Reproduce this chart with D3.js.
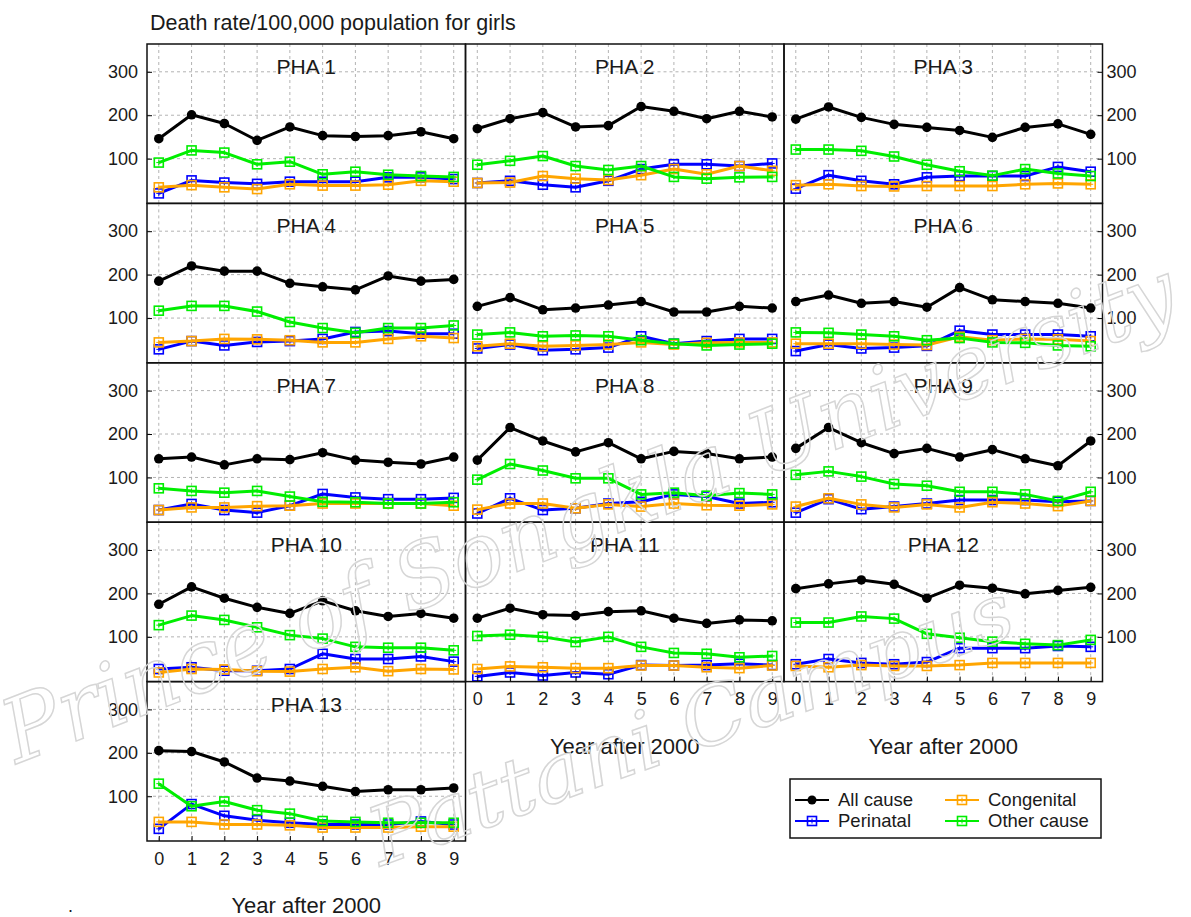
<!DOCTYPE html>
<html>
<head>
<meta charset="utf-8">
<script src="https://cdn.jsdelivr.net/npm/d3@7"></script>
<style>
  body { margin: 0; background: #fff; }
  text { font-family: "Liberation Sans", Arial, sans-serif; fill: #1a1a1a; }
</style>
</head>
<body>
<div id="chart"></div>
<script>
// data
var years = [0, 1, 2, 3, 4, 5, 6, 7, 8, 9];
var yTicks = [100, 200, 300];
var panelNames = ["PHA 1", "PHA 2", "PHA 3", "PHA 4", "PHA 5", "PHA 6", "PHA 7",
  "PHA 8", "PHA 9", "PHA 10", "PHA 11", "PHA 12", "PHA 13"];
var seriesNames = ["All cause", "Perinatal", "Congenital", "Other cause"];

var allCause = [
  [146, 201, 181, 142, 173, 153, 151, 153, 162, 146],
  [169, 192, 206, 173, 176, 220, 209, 192, 209, 196],
  [191, 219, 195, 179, 172, 165, 149, 172, 180, 156],
  [185, 220, 208, 208, 180, 172, 165, 197, 185, 189],
  [127, 147, 119, 123, 130, 138, 114, 114, 127, 123],
  [138, 153, 134, 138, 125, 170, 142, 138, 134, 123],
  [143, 147, 129, 143, 141, 157, 140, 135, 131, 147],
  [140, 215, 184, 159, 180, 143, 160, 155, 143, 147],
  [167, 215, 180, 155, 167, 147, 164, 143, 127, 184],
  [175, 215, 189, 168, 154, 183, 160, 147, 154, 143],
  [143, 166, 151, 149, 158, 160, 143, 131, 139, 137],
  [211, 222, 231, 221, 189, 219, 212, 199, 207, 214],
  [205, 203, 179, 142, 135, 123, 111, 115, 115, 119]
];
var perinatal = [
  [20, 50, 45, 42, 47, 47, 47, 57, 57, 53],
  [44, 49, 40, 34, 49, 76, 87, 87, 83, 89],
  [31, 62, 49, 41, 57, 60, 60, 60, 81, 70],
  [28, 47, 37, 45, 47, 52, 68, 70, 64, 64],
  [30, 39, 26, 28, 32, 58, 41, 47, 52, 52],
  [24, 39, 30, 32, 36, 71, 62, 62, 62, 58],
  [25, 39, 25, 19, 35, 62, 54, 50, 50, 53],
  [17, 52, 25, 29, 40, 44, 61, 56, 40, 43],
  [19, 50, 27, 33, 40, 48, 48, 48, 44, 46],
  [26, 30, 22, 22, 26, 61, 49, 49, 55, 43],
  [9, 18, 11, 18, 14, 35, 34, 35, 38, 35],
  [37, 49, 40, 37, 42, 74, 74, 74, 79, 77],
  [25, 82, 55, 45, 39, 35, 35, 35, 42, 35]
];
var congenital = [
  [34, 39, 34, 30, 41, 38, 38, 40, 49, 47],
  [44, 45, 60, 54, 51, 62, 76, 64, 83, 72],
  [39, 41, 37, 36, 37, 37, 37, 41, 43, 41],
  [44, 47, 52, 51, 49, 44, 44, 52, 58, 54],
  [35, 41, 35, 37, 39, 44, 39, 43, 44, 44],
  [41, 41, 41, 39, 38, 57, 49, 52, 51, 47],
  [25, 31, 31, 34, 35, 40, 40, 40, 40, 35],
  [26, 40, 40, 29, 38, 33, 40, 36, 35, 38],
  [33, 52, 38, 31, 38, 31, 43, 40, 34, 46],
  [18, 26, 25, 21, 20, 26, 30, 21, 26, 25],
  [26, 32, 30, 28, 28, 34, 34, 30, 28, 34],
  [33, 30, 35, 33, 33, 35, 40, 40, 40, 40],
  [41, 41, 35, 35, 33, 28, 28, 28, 30, 30]
];
var otherCause = [
  [91, 119, 114, 87, 93, 64, 70, 63, 60, 58],
  [86, 95, 106, 83, 74, 83, 58, 54, 57, 58],
  [121, 121, 118, 105, 86, 71, 61, 76, 66, 60],
  [117, 128, 128, 115, 91, 77, 66, 77, 77, 83],
  [62, 67, 58, 60, 58, 49, 41, 37, 39, 41],
  [67, 66, 62, 58, 49, 54, 44, 43, 37, 35],
  [75, 69, 65, 69, 56, 44, 43, 40, 40, 43],
  [95, 131, 116, 98, 98, 61, 65, 58, 64, 61],
  [106, 114, 102, 85, 81, 67, 67, 61, 46, 67],
  [127, 149, 139, 122, 104, 96, 77, 75, 75, 69],
  [102, 105, 100, 88, 100, 77, 63, 61, 53, 56],
  [133, 133, 147, 142, 107, 98, 89, 84, 81, 93],
  [129, 77, 88, 68, 60, 43, 41, 39, 39, 39]
];

var width = 1191;
var height = 917;

// panel grid
var colX = [147, 465.5, 784];
var rowY = [44, 203.4, 362.8, 522.2, 681.6];
var panelW = 318.5;
var panelH = 159.4;

var colors = ["#000000", "#0000ff", "#ffa500", "#00ee00"];

var svg = d3.select("#chart")
  .append("svg")
  .attr("width", width)
  .attr("height", height);

var xScale = d3.scaleLinear().domain([-0.36, 9.36]).range([0, panelW]);
var yScale = d3.scaleLinear().domain([-3, 364]).range([panelH, 0]);

// title
svg.append("text")
  .attr("x", 150)
  .attr("y", 30)
  .style("font-size", "21.5px")
  .text("Death rate/100,000 population for girls");

var line = d3.line()
  .x(function(d, i) { return xScale(years[i]); })
  .y(function(d) { return yScale(d); });

// draw a square with a plus (open marker)
function squareMark(g, color) {
  g.append("rect")
    .attr("x", -4.5).attr("y", -4.5)
    .attr("width", 9).attr("height", 9)
    .attr("fill", "none")
    .attr("stroke", color)
    .attr("stroke-width", 1.6);
  g.append("path")
    .attr("d", "M-2.5,0H2.5M0,-2.5V2.5")
    .attr("stroke", color)
    .attr("stroke-width", 1);
}

panelNames.forEach(function(name, p) {
  var col = p % 3;
  var row = Math.floor(p / 3);
  var g = svg.append("g")
    .attr("transform", "translate(" + colX[col] + "," + rowY[row] + ")");

  // dashed grid
  g.selectAll(".vgrid").data(years).enter()
    .append("line")
    .attr("x1", function(d) { return xScale(d); })
    .attr("x2", function(d) { return xScale(d); })
    .attr("y1", 0).attr("y2", panelH)
    .attr("stroke", "#b3b3b3")
    .attr("stroke-dasharray", "3,3");
  g.selectAll(".hgrid").data(yTicks).enter()
    .append("line")
    .attr("y1", function(d) { return yScale(d); })
    .attr("y2", function(d) { return yScale(d); })
    .attr("x1", 0).attr("x2", panelW)
    .attr("stroke", "#b3b3b3")
    .attr("stroke-dasharray", "3,3");

  // strip label
  g.append("text")
    .attr("x", panelW / 2)
    .attr("y", 30)
    .attr("text-anchor", "middle")
    .style("font-size", "21px")
    .text(name);

  var sets = [allCause[p], perinatal[p], congenital[p], otherCause[p]];
  sets.forEach(function(vals, s) {
    g.append("path")
      .attr("d", line(vals))
      .attr("fill", "none")
      .attr("stroke", colors[s])
      .attr("stroke-width", 3)
      .attr("stroke-linejoin", "round");
    var pts = g.selectAll(".pt" + s).data(vals).enter()
      .append("g")
      .attr("transform", function(d, i) {
        return "translate(" + xScale(years[i]) + "," + yScale(d) + ")";
      });
    if (s === 0) {
      pts.append("circle").attr("r", 4.8).attr("fill", "#000");
    } else {
      pts.each(function() { squareMark(d3.select(this), colors[s]); });
    }
  });

  // axes: left column, right column, bottom row of each column
  if (col === 0) {
    var ax = g.append("g")
      .call(d3.axisLeft(yScale).tickValues(yTicks).tickSize(-5).tickPadding(9));
    ax.select(".domain").remove();
    ax.selectAll("text").style("font-size", "18px").attr("fill", "#1a1a1a");
  }
  if (col === 2) {
    var ax2 = g.append("g")
      .attr("transform", "translate(" + panelW + ",0)")
      .call(d3.axisRight(yScale).tickValues(yTicks).tickSize(-5).tickPadding(4));
    ax2.select(".domain").remove();
    ax2.selectAll("text").style("font-size", "18px").attr("fill", "#1a1a1a");
  }
  var lastInCol = (p === 12) || (p === 10) || (p === 11);
  if (lastInCol) {
    var ax3 = g.append("g")
      .attr("transform", "translate(0," + panelH + ")")
      .call(d3.axisBottom(xScale).tickValues(years).tickSize(-5).tickPadding(11));
    ax3.select(".domain").remove();
    ax3.selectAll("text").style("font-size", "18px").attr("fill", "#1a1a1a");
    g.append("text")
      .attr("x", panelW / 2)
      .attr("y", panelH + 72)
      .attr("text-anchor", "middle")
      .style("font-size", "22px")
      .text("Year after 2000");
  }

  // panel border
  g.append("rect")
    .attr("width", panelW)
    .attr("height", panelH)
    .attr("fill", "none")
    .attr("stroke", "#111")
    .attr("stroke-width", 1.5);
});

// legend
var legend = svg.append("g").attr("transform", "translate(790,779)");
legend.append("rect")
  .attr("width", 311).attr("height", 59)
  .attr("fill", "#fff")
  .attr("stroke", "#111")
  .attr("stroke-width", 1.5);
var legPos = [[5, 21], [5, 42], [155, 21], [155, 42]];
seriesNames.forEach(function(nm, s) {
  var lg = legend.append("g")
    .attr("transform", "translate(" + legPos[s][0] + "," + legPos[s][1] + ")");
  lg.append("line")
    .attr("x1", 0).attr("x2", 34)
    .attr("stroke", colors[s])
    .attr("stroke-width", 2);
  var mk = lg.append("g").attr("transform", "translate(17,0)");
  if (s === 0) {
    mk.append("circle").attr("r", 4.5).attr("fill", "#000");
  } else {
    squareMark(mk, colors[s]);
  }
  lg.append("text")
    .attr("x", 43)
    .attr("y", 6)
    .style("font-size", "18.5px")
    .text(nm);
});

svg.append("text").attr("x", 68).attr("y", 912).style("font-size", "18px").text(".");

// watermark
var wm = svg.append("g").attr("pointer-events", "none");
wm.append("text")
  .attr("transform", "translate(600,540) rotate(-21)")
  .attr("text-anchor", "middle")
  .attr("textLength", 1250)
  .attr("lengthAdjust", "spacingAndGlyphs")
  .style("font-family", "'DejaVu Serif', serif")
  .style("font-style", "italic")
  .style("font-size", "88px")
  .style("fill", "none")
  .style("stroke", "#d6d6d6")
  .style("stroke-width", 1.5)
  .text("Prince of Songkla University");
wm.append("text")
  .attr("transform", "translate(700,750) rotate(-20)")
  .attr("text-anchor", "middle")
  .attr("textLength", 680)
  .attr("lengthAdjust", "spacingAndGlyphs")
  .style("font-family", "'DejaVu Serif', serif")
  .style("font-style", "italic")
  .style("font-size", "80px")
  .style("fill", "none")
  .style("stroke", "#d6d6d6")
  .style("stroke-width", 1.5)
  .text("Pattani Campus");
</script>
</body>
</html>
